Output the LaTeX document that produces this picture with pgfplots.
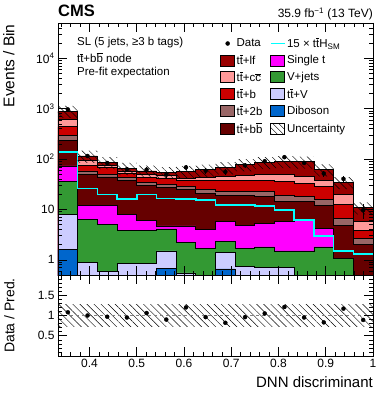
\documentclass[border=0pt]{standalone}
\usepackage{fontspec}
\setmainfont{Liberation Sans}
\usepackage{pgfplots}
\pgfplotsset{compat=1.18}
\usepackage{pgfplotstable}
\usetikzlibrary{patterns.meta}

\definecolor{cttlf}{RGB}{153,0,0}
\definecolor{cttcc}{RGB}{255,153,153}
\definecolor{cttb}{RGB}{204,0,0}
\definecolor{ctttwob}{RGB}{153,102,102}
\definecolor{cttbb}{RGB}{102,0,0}
\definecolor{cst}{RGB}{255,0,255}
\definecolor{cvj}{RGB}{51,153,51}
\definecolor{cttv}{RGB}{204,204,255}
\definecolor{cdib}{RGB}{0,102,204}
\definecolor{ctth}{RGB}{0,255,255}

\newcommand{\tbar}{\mbox{$\overline{\mbox{t}}$}}
\newcommand{\bbar}{\mbox{$\overline{\mbox{b}}$}}
\newcommand{\cbar}{\mbox{$\overline{\mbox{c}}$}}

% cumulative stack tops per bin (left bin edge); first and last rows are the floor
\pgfplotstableread{
x      tot   cc   b     bb2   bb    st    vj    ttv   db    tth
0.3333 0.1   0.1  0.1   0.1   0.1   0.1   0.1   0.1   0.1   0.1
0.3333 893   619  437   290   238   73    35.5  7.8   1.58  139
0.3750 115   95   76    58    50    12    6.2   0.89  0.3   26
0.4167 86    74   67    50    44    12    5.0   0.58  0.3   20
0.4583 66    58   52    42.6  38    8.0   3.9   0.86  0.3   16
0.5000 58    50   42.6  34.5  30    6.0   3.9   0.86  0.3   20
0.5417 54.5  46.6 41.5  31.5  27    4.7   4.1   1.5   0.68  16.5
0.5833 57    42   37    29    25    4.7   2.2   0.55  0.3   16.2
0.6250 61    43   37    25    21    4.0   1.7   0.4   0.3   15.5
0.6667 68    46   38    23    19    5.7   2.3   1.4   0.66  12.3
0.7083 78    48   38    23    19    4.9   1.7   0.74  0.3   12.3
0.7500 86    50   37    22.6  18    5.2   1.8   0.72  0.3   11.7
0.7917 90    50   36    19    14.5  5.8   1.5   0.72  0.3   9.8
0.8333 88    46   33    18    14.3  6.2   1.5   0.4   0.3   6.2
0.8750 62    38   28    16    12    4.2   1.8   0.4   0.3   3.0
0.9167 34.5  20   12.3  6.5   4.9   1.05  1.05  0.4   0.3   1.5
0.9583 10.9  5.7  3.9   2.7   2.05  0.35  0.35  0.3   0.3   1.3
1.0000 10.9  5.7  3.9   2.7   2.05  0.35  0.35  0.3   0.3   1.3
1.0000 0.1   0.1  0.1   0.1   0.1   0.1   0.1   0.1   0.1   0.1
}\stack

% uncertainty band outline: upper edge forward, lower edge back
\pgfplotstableread{
x      y
0.3333 1134
0.3750 1134
0.3750 146
0.4167 146
0.4167 109
0.4583 109
0.4583 83.8
0.5000 83.8
0.5000 73.7
0.5417 73.7
0.5417 69.2
0.5833 69.2
0.5833 72.4
0.6250 72.4
0.6250 77.5
0.6667 77.5
0.6667 86.4
0.7083 86.4
0.7083 99.1
0.7500 99.1
0.7500 109.2
0.7917 109.2
0.7917 114.3
0.8333 114.3
0.8333 111.8
0.8750 111.8
0.8750 78.7
0.9167 78.7
0.9167 43.8
0.9583 43.8
0.9583 13.8
1.0000 13.8
1.0000 8.0
0.9583 8.0
0.9583 25.2
0.9167 25.2
0.9167 45.3
0.8750 45.3
0.8750 64.2
0.8333 64.2
0.8333 65.7
0.7917 65.7
0.7917 62.8
0.7500 62.8
0.7500 56.9
0.7083 56.9
0.7083 49.6
0.6667 49.6
0.6667 44.5
0.6250 44.5
0.6250 41.6
0.5833 41.6
0.5833 39.8
0.5417 39.8
0.5417 42.3
0.5000 42.3
0.5000 48.2
0.4583 48.2
0.4583 62.8
0.4167 62.8
0.4167 84
0.3750 84
0.3750 652
0.3333 652
}\band

\pgfplotstableread{
xc     data  err   ratio
0.3542 964   31    1.08
0.3958 115   10.7  1.00
0.4375 83.4  9.1   0.97
0.4792 62.7  7.9   0.95
0.5208 61.5  7.8   1.06
0.5625 49    7.0   0.90
0.6042 68.4  8.3   1.20
0.6458 58.6  7.7   0.96
0.6875 55.8  7.5   0.82
0.7292 74.9  8.7   0.96
0.7708 90.3  9.5   1.05
0.8125 108.9 10.4  1.21
0.8542 83.6  9.1   0.95
0.8958 51.5  7.2   0.83
0.9375 40.4  6.4   1.17
0.9792 9.7   3.1   0.89
}\obs

\pgfplotsset{
  layer/.style={const plot, draw=black, line width=0.8pt, fill=#1, forget plot},
  box/.style={legend image code/.code={\draw[line width=0.8pt, fill=#1] (0pt,-5.5pt) rectangle (14pt,5.5pt);}},
  hatch/.style={pattern={Lines[angle=-45,distance=5pt,line width=0.45pt]}},
  cmsaxis/.style={
    width=315pt, scale only axis,
    xmin=0.33333, xmax=1,
    axis on top,
    tick align=inside, xtick pos=both, ytick pos=both,
    major tick length=9pt, minor tick length=4.5pt,
    every tick/.style={black, line width=0.6pt},
    axis line style={line width=0.8pt},
    tick label style={font=\fontsize{12}{14}\selectfont},
    xtick={0.4,0.5,0.6,0.7,0.8,0.9,1},
    minor xtick={0.34,0.36,...,0.99},
  },
}

\begin{document}
\begin{tikzpicture}
\useasboundingbox (-58pt,-119pt) rectangle (324pt,275pt);
\begin{axis}[cmsaxis, name=main, at={(0,0)}, anchor=south west,
  height=252pt,
  ymode=log, ymin=0.5, ymax=5e4,
  xticklabels={},
  ytick={1,10,100,1000,10000},
  yticklabels={1,10,10\textsuperscript{2},10\textsuperscript{3},10\textsuperscript{4}},
  minor ytick={0.6,0.7,0.8,0.9,2,3,4,5,6,7,8,9,20,30,40,50,60,70,80,90,200,300,400,500,600,700,800,900,2000,3000,4000,5000,6000,7000,8000,9000,20000,30000,40000},
  ylabel={Events / Bin},
  ylabel style={font=\fontsize{15.5}{17}\selectfont, at={([xshift=-40pt]rel axis cs:0,1.008)}, anchor=south east},
  legend columns=2,
  legend cell align=left,
  legend style={at={(rel axis cs:0.505,0.955)}, anchor=north west, draw=none, fill=none,
    font=\fontsize{11.5}{13}\selectfont, row sep=3pt,
    nodes={inner sep=1.5pt},
    /tikz/every even column/.append style={column sep=6pt}},
]
\addplot[layer=cttlf] table[x=x, y=tot] {\stack};
\addplot[layer=cttcc] table[x=x, y=cc] {\stack};
\addplot[layer=cttb] table[x=x, y=b] {\stack};
\addplot[layer=ctttwob] table[x=x, y=bb2] {\stack};
\addplot[layer=cttbb] table[x=x, y=bb] {\stack};
\addplot[layer=cst] table[x=x, y=st] {\stack};
\addplot[layer=cvj] table[x=x, y=vj] {\stack};
\addplot[layer=cttv] table[x=x, y=ttv] {\stack};
\addplot[layer=cdib] table[x=x, y=db] {\stack};

\addplot[const plot, ctth, line width=1.5pt, forget plot,
  skip coords between index={0}{1}, skip coords between index={18}{19}]
  table[x=x, y=tth] {\stack};

\addplot[hatch, draw=none, forget plot] table[x=x, y=y] {\band};

\addplot[only marks, mark=*, mark size=2pt, black, forget plot,
  error bars/.cd, y dir=both, y explicit, error mark=none,
  error bar style={line width=0.8pt}]
  table[x=xc, y=data, y error=err] {\obs};

\addlegendimage{legend image code/.code={\fill[black] (7pt,0pt) circle (2pt);}}
\addlegendentry{Data}
\addlegendimage{legend image code/.code={\draw[ctth, line width=1.6pt] (0pt,0pt) -- (14pt,0pt);}}
\addlegendentry{15 × t\tbar H\textsubscript{SM}}
\addlegendimage{box=cttlf}
\addlegendentry{t\tbar+lf}
\addlegendimage{box=cst}
\addlegendentry{Single t}
\addlegendimage{box=cttcc}
\addlegendentry{t\tbar+c\cbar}
\addlegendimage{box=cvj}
\addlegendentry{V+jets}
\addlegendimage{box=cttb}
\addlegendentry{t\tbar+b}
\addlegendimage{box=cttv}
\addlegendentry{t\tbar+V}
\addlegendimage{box=ctttwob}
\addlegendentry{t\tbar+2b}
\addlegendimage{box=cdib}
\addlegendentry{Diboson}
\addlegendimage{box=cttbb}
\addlegendentry{t\tbar+b\bbar}
\addlegendimage{legend image code/.code={\draw[line width=0.8pt, pattern={Lines[angle=-45,distance=4pt,line width=0.45pt]}] (0pt,-5.5pt) rectangle (14pt,5.5pt);}}
\addlegendentry{Uncertainty}

\node[anchor=west, inner sep=0, font=\fontsize{11.5}{13}\selectfont] at (rel axis cs:0.06,0.922) {SL (5 jets, ≥3 b tags)};
\node[anchor=west, inner sep=0, font=\fontsize{11.5}{13}\selectfont] at (rel axis cs:0.06,0.862) {t\tbar+b\bbar{} node};
\node[anchor=west, inner sep=0, font=\fontsize{11.5}{13}\selectfont] at (rel axis cs:0.06,0.803) {Pre-fit expectation};
\end{axis}

\node[anchor=base west, inner sep=0, font=\fontsize{16.5}{18}\selectfont\bfseries] at ([yshift=6pt]main.north west) {CMS};
\node[anchor=base east, inner sep=0, font=\fontsize{12}{14}\selectfont] at ([yshift=5.5pt]main.north east) {35.9 fb\textsuperscript{−1} (13 TeV)};

\begin{axis}[cmsaxis, name=ratio, at={(main.south west)}, anchor=north west,
  height=81pt,
  ymin=0, ymax=2,
  xticklabels={0.4,0.5,0.6,0.7,0.8,0.9,1},
  ytick={0.5,1,1.5}, yticklabels={0.5,1,1.5},
  minor ytick={0.1,0.2,0.3,0.4,0.6,0.7,0.8,0.9,1.1,1.2,1.3,1.4,1.6,1.7,1.8,1.9},
  ylabel={Data / Pred.},
  ylabel style={font=\fontsize{14}{16}\selectfont, at={([xshift=-40pt]rel axis cs:0,0.5)}, anchor=south},
  xlabel={DNN discriminant},
  xlabel style={font=\fontsize{15}{17}\selectfont, at={([yshift=-20pt]rel axis cs:1,0)}, anchor=north east, inner sep=0},
]
\addplot[hatch, draw=none, forget plot]
  coordinates {(0.33333,0.73) (0.33333,1.27) (1,1.27) (1,0.73)};
\addplot[gray, dashed, line width=0.8pt, forget plot] coordinates {(0.33333,1) (1,1)};
\addplot[only marks, mark=*, mark size=2pt, black, forget plot] table[x=xc, y=ratio] {\obs};
\end{axis}
\end{tikzpicture}
\end{document}
